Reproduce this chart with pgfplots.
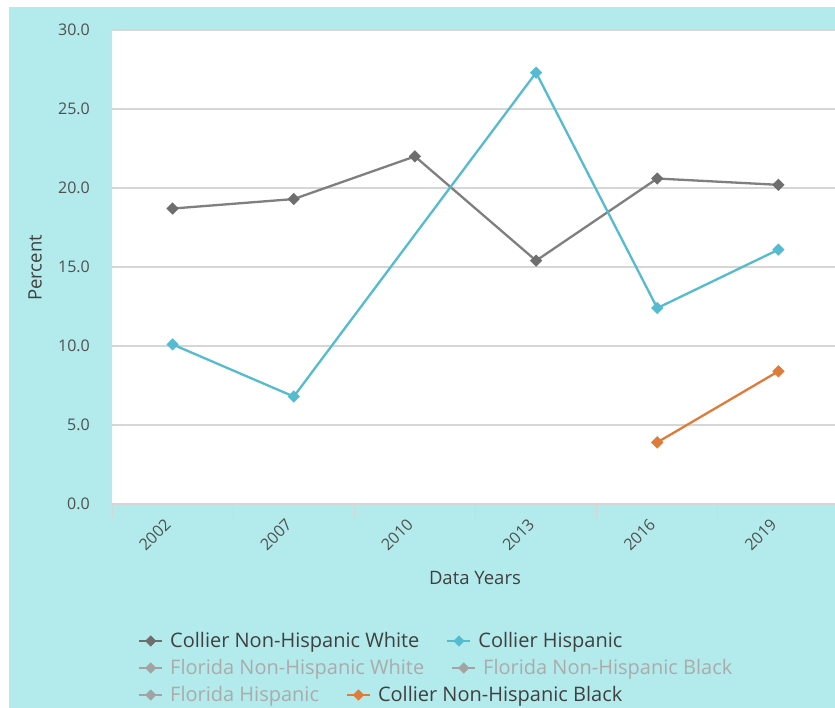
\documentclass[border=0pt]{standalone}
\usepackage{pgfplots}
\pgfplotsset{compat=1.18}
\usepackage{fontspec}
\setmainfont{Open Sans}
\definecolor{bgc}{HTML}{B3EAEC}
\definecolor{gridc}{HTML}{D6D6D6}
\definecolor{nhw}{HTML}{7F7F7F}
\definecolor{nhwm}{HTML}{6E6E6E}
\definecolor{hisp}{HTML}{55BBD0}
\definecolor{nhb}{HTML}{E07B39}
\definecolor{flg}{HTML}{A3A3A3}
\definecolor{flt}{HTML}{ABABAB}
\definecolor{txt}{HTML}{404040}
\definecolor{tickc}{HTML}{505050}
\pgfplotsset{
  legrow/.style={
    hide axis, scale only axis, width=10bp, height=10bp, anchor=south west,
    xmin=0, xmax=1, ymin=0, ymax=1,
    legend columns=-1,
    legend style={at={(0,0)}, anchor=west, draw=none, fill=none, inner sep=0pt,
      font=\fontsize{20bp}{23bp}\selectfont, text=txt,
      /tikz/every odd column/.append style={column sep=5bp},
      /tikz/every even column/.append style={column sep=25bp}},
    legend image code/.code={\draw[mark repeat=2,mark phase=2] plot coordinates {(0bp,0bp) (11.5bp,0bp) (23bp,0bp)};},
  },
}
\begin{document}
\begin{tikzpicture}
\path[use as bounding box, fill=white] (0,0) rectangle (835bp,708bp);
\fill[bgc] (9bp,0) rectangle (835bp,701bp);
\begin{axis}[
  scale only axis, width=723bp, height=474bp,
  at={(112bp,204bp)}, anchor=south west,
  xmin=-0.5, xmax=5.467, ymin=0, ymax=30,
  xtick={0,...,5}, xticklabels={2002,2007,2010,2013,2016,2019},
  minor xtick={-0.5,0.5,...,4.5},
  ytick={0,5,...,30},
  ymajorgrids, grid style={color=gridc, line width=1.3bp},
  axis line style={draw=none},
  major tick length=0pt, minor tick length=14bp, tick align=outside,
  xtick pos=left, ytick pos=left,
  minor tick style={color=gridc, line width=1bp},
  axis background/.style={fill=white},
  /pgf/number format/assume math mode=true,
  yticklabel style={/pgf/number format/fixed, /pgf/number format/fixed zerofill, /pgf/number format/precision=1},
  yticklabel style={font=\fontsize{16bp}{19bp}\selectfont, text=tickc, inner sep=0pt, anchor=east, xshift=-22bp},
  xticklabel style={font=\fontsize{16bp}{19bp}\selectfont, text=tickc, inner sep=0pt, xshift=-9bp, yshift=-13.4bp, rotate=45, anchor=north east},
  ylabel={Percent}, xlabel={Data Years},
  every axis y label/.style={at={(axis description cs:-0.1065,0.498)}, rotate=90, anchor=center, font=\fontsize{18.5bp}{22bp}\selectfont, text=txt},
  every axis x label/.style={at={(axis description cs:0.502,-0.156)}, anchor=center, font=\fontsize{18.5bp}{22bp}\selectfont, text=txt},
  clip=false,
]
\addplot[color=nhw, line width=2.3bp, mark=square*, mark size=3.2bp, mark options={rotate=45, fill=nhwm, draw=nhwm}]
  coordinates {(0,18.7) (1,19.3) (2,22.0) (3,15.4) (4,20.6) (5,20.2)};
\addplot[color=hisp, line width=2.3bp, mark=square*, mark size=3.2bp, mark options={rotate=45}]
  coordinates {(0,10.1) (1,6.8) (3,27.3) (4,12.4) (5,16.1)};
\addplot[color=nhb, line width=2.3bp, mark=square*, mark size=3.2bp, mark options={rotate=45}]
  coordinates {(4,3.9) (5,8.4)};
\end{axis}
\begin{axis}[legrow, at={(138bp,67bp)}]
\addlegendimage{color=nhwm, line width=2bp, mark=square*, mark size=3bp, mark options={rotate=45}}
\addlegendentry{Collier Non-Hispanic White}
\addlegendimage{color=hisp, line width=2bp, mark=square*, mark size=3bp, mark options={rotate=45}}
\addlegendentry{Collier Hispanic}
\end{axis}
\begin{axis}[legrow, at={(138bp,40bp)}]
\addlegendimage{color=flg, line width=2bp, mark=square*, mark size=3bp, mark options={rotate=45}}
\addlegendentry{\textcolor{flt}{Florida Non-Hispanic White}}
\addlegendimage{color=flg, line width=2bp, mark=square*, mark size=3bp, mark options={rotate=45}}
\addlegendentry{\textcolor{flt}{Florida Non-Hispanic Black}}
\end{axis}
\begin{axis}[legrow, at={(138bp,13bp)}]
\addlegendimage{color=flg, line width=2bp, mark=square*, mark size=3bp, mark options={rotate=45}}
\addlegendentry{\textcolor{flt}{Florida Hispanic}}
\addlegendimage{color=nhb, line width=2bp, mark=square*, mark size=3bp, mark options={rotate=45}}
\addlegendentry{Collier Non-Hispanic Black}
\end{axis}
\end{tikzpicture}
\end{document}
